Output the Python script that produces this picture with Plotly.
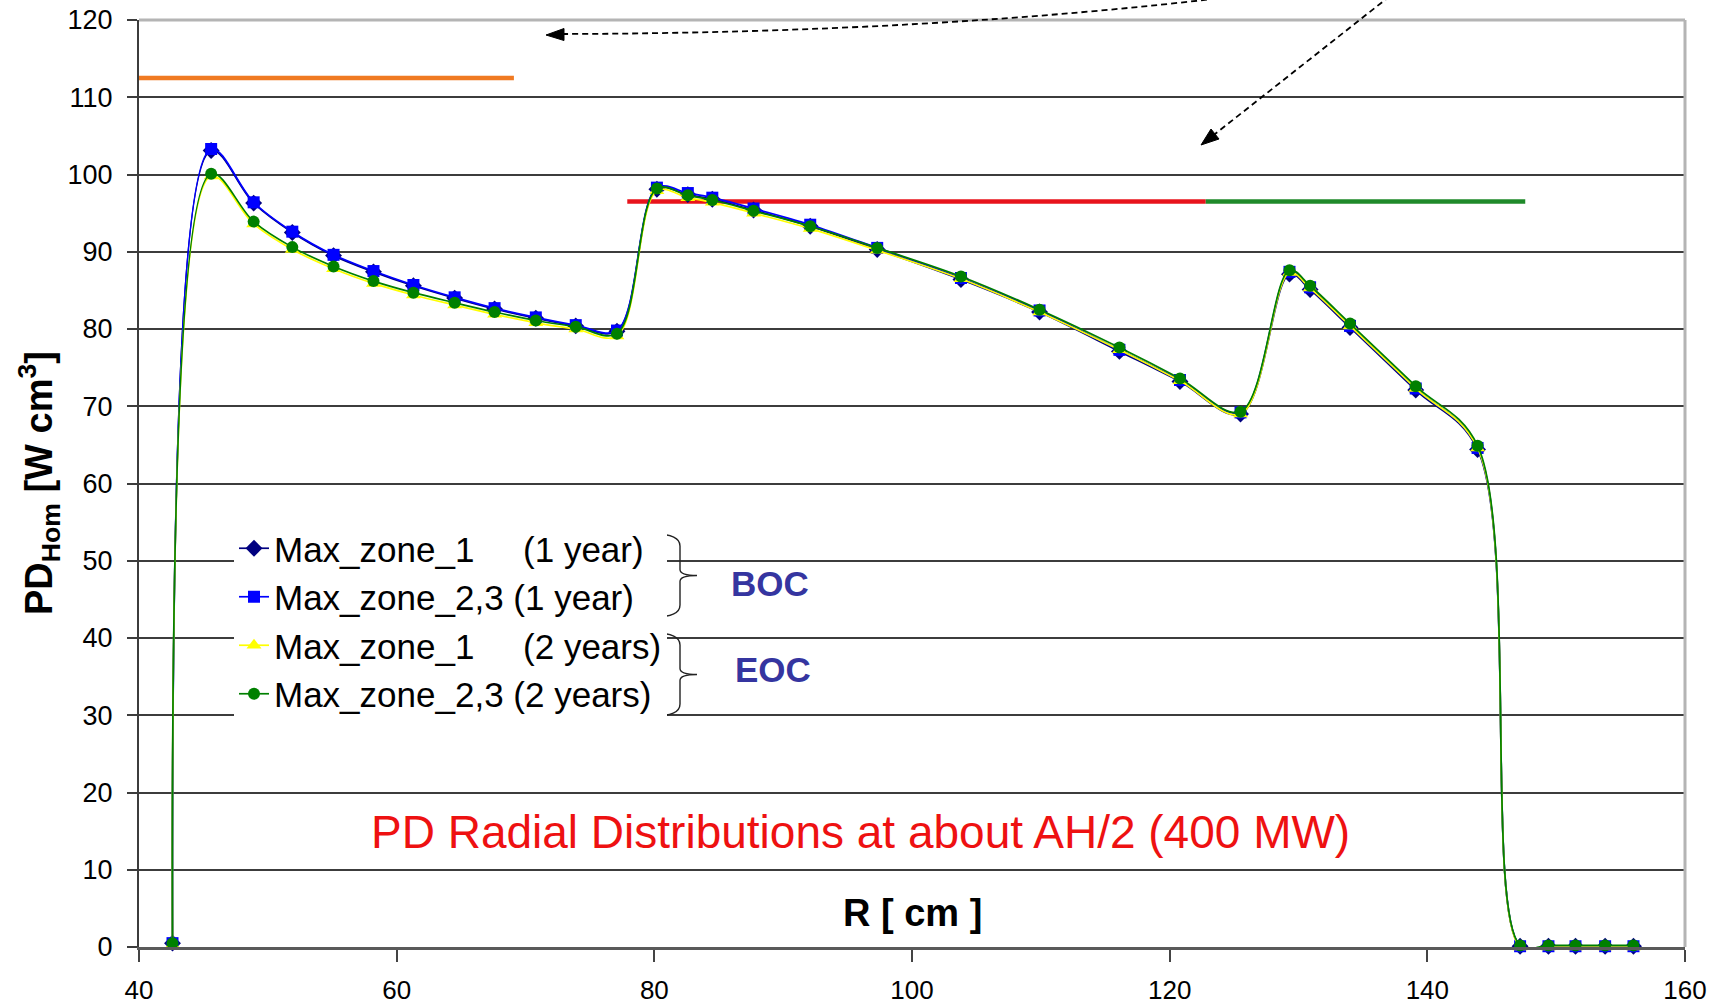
import plotly.graph_objects as go

# ---------------- data ----------------
R = [42.6, 45.6, 48.9, 51.9, 55.1, 58.2, 61.3, 64.5, 67.6, 70.8, 73.9, 77.1,
     80.2, 82.6, 84.5, 87.7, 92.1, 97.3, 103.8, 109.9, 116.1, 120.8, 125.5,
     129.3, 130.9, 134.0, 139.1, 143.9, 147.2, 149.4, 151.5, 153.8, 156.0]

zone1_1y = [0.5, 103.1, 96.3, 92.5, 89.5, 87.4, 85.6, 84.0, 82.6, 81.4, 80.4, 79.7,
            98.1, 97.4, 96.8, 95.4, 93.3, 90.3, 86.4, 82.2, 77.1, 73.2, 69.0,
            87.1, 85.1, 80.2, 72.1, 64.4, 0.1, 0.1, 0.1, 0.1, 0.1]
zone23_1y = [0.5, 103.3, 96.4, 92.6, 89.6, 87.5, 85.7, 84.1, 82.7, 81.5, 80.5, 79.8,
             98.3, 97.6, 97.0, 95.6, 93.5, 90.5, 86.6, 82.4, 77.3, 73.4, 69.2,
             87.4, 85.4, 80.4, 72.3, 64.6, 0.1, 0.1, 0.1, 0.1, 0.1]
zone1_2y = [0.3, 99.8, 93.6, 90.3, 87.8, 85.9, 84.4, 83.1, 81.9, 80.8, 80.0, 79.1,
            97.9, 97.0, 96.4, 95.0, 93.0, 90.2, 86.5, 82.2, 77.3, 73.3, 69.0,
            87.3, 85.3, 80.4, 72.3, 64.6, 0.0, 0.0, 0.0, 0.0, 0.0]
zone23_2y = [0.5, 100.1, 93.9, 90.6, 88.1, 86.2, 84.7, 83.4, 82.2, 81.1, 80.3, 79.4,
             98.2, 97.3, 96.7, 95.3, 93.3, 90.5, 86.8, 82.5, 77.6, 73.6, 69.3,
             87.6, 85.6, 80.7, 72.6, 64.9, 0.2, 0.2, 0.2, 0.2, 0.2]

# design-limit bars
orange_x, orange_y = [40.0, 69.1], [112.5, 112.5]
red_x, red_y = [77.9, 122.8], [96.5, 96.5]
green_x, green_y = [122.8, 147.6], [96.5, 96.5]

x_ticks = [40, 60, 80, 100, 120, 140, 160]
y_ticks = [0, 10, 20, 30, 40, 50, 60, 70, 80, 90, 100, 110, 120]

NB = "\u00a0"
names = ["Max_zone_1" + NB * 5 + "(1 year)",
         "Max_zone_2,3 (1 year)",
         "Max_zone_1" + NB * 5 + "(2 years)",
         "Max_zone_2,3 (2 years)"]

FONT = "Liberation Sans, Arial, sans-serif"

# ---------------- geometry helpers (pixel -> paper) ----------------
W, H = 1721, 1004
L, Rm, T, B = 139, 36, 20, 57
PW, PH = W - L - Rm, H - T - B


def px(X):
    return (X - L) / PW


def py(Y):
    return (H - B - Y) / PH


fig = go.Figure()

# limit bars
for xs, ys, col in [(orange_x, orange_y, "#f07a22"), (red_x, red_y, "#e8141c"),
                    (green_x, green_y, "#1f8a2a")]:
    fig.add_trace(go.Scatter(x=xs, y=ys, mode="lines", showlegend=False,
                             line=dict(color=col, width=4.5), hoverinfo="skip"))

series = [
    (zone1_1y, names[0], "#000080", "diamond", 13),
    (zone23_1y, names[1], "#0000ff", "square", 12),
    (zone1_2y, names[2], "#ffff00", "triangle-up", 13),
    (zone23_2y, names[3], "#008000", "circle", 12),
]
for i, (ys, nm, col, sym, sz) in enumerate(series):
    fig.add_trace(go.Scatter(
        x=R, y=ys, name=nm, mode="lines+markers", legendgroup=f"g{i}",
        line=dict(color=col, width=1.7, shape="spline", smoothing=1.0),
        marker=dict(symbol=sym, size=sz, color=col, line=dict(width=0)),
        cliponaxis=False,
    ))

shapes = []
# top & right frame (light gray)
shapes.append(dict(type="line", xref="paper", yref="paper", x0=0, x1=1, y0=1, y1=1,
                   line=dict(color="#b4b4b4", width=3), layer="above"))
shapes.append(dict(type="line", xref="paper", yref="paper", x0=1, x1=1, y0=0, y1=1,
                   line=dict(color="#b4b4b4", width=3), layer="above"))

# dashed arrow 1 (curved)
p0 = (562, 34)
c = (933, 33)
p2 = (1238, -4)
shapes.append(dict(type="path", xref="paper", yref="paper",
                   path=f"M{px(p0[0])},{py(p0[1])} Q{px(c[0])},{py(c[1])} {px(p2[0])},{py(p2[1])}",
                   line=dict(color="black", width=1.8, dash="6px,4px")))
tip = (546, 35)
shapes.append(dict(type="path", xref="paper", yref="paper",
                   path=f"M{px(tip[0])},{py(tip[1])} L{px(564)},{py(28.5)} L{px(564)},{py(40.5)} Z",
                   fillcolor="black", line=dict(color="black", width=1)))

# dashed arrow 2 (straight)
shapes.append(dict(type="line", xref="paper", yref="paper",
                   x0=px(1390), y0=py(-4), x1=px(1215), y1=py(134),
                   line=dict(color="black", width=1.8, dash="6px,4px")))
tip2 = (1201, 145)
shapes.append(dict(type="path", xref="paper", yref="paper",
                   path=f"M{px(tip2[0])},{py(tip2[1])} L{px(1219)},{py(139)} L{px(1211)},{py(129)} Z",
                   fillcolor="black", line=dict(color="black", width=1)))

# braces
def brace(x0, ytop, ybot, xtip):
    ym = (ytop + ybot) / 2
    xm = x0 + 26
    return (f"M{px(x0)},{py(ytop)} Q{px(xm)},{py(ytop)} {px(xm)},{py(ytop + 12)} "
            f"L{px(xm)},{py(ym - 6)} Q{px(xm)},{py(ym)} {px(xtip)},{py(ym)} "
            f"Q{px(xm)},{py(ym)} {px(xm)},{py(ym + 6)} "
            f"L{px(xm)},{py(ybot - 12)} Q{px(xm)},{py(ybot)} {px(x0)},{py(ybot)}")

shapes.append(dict(type="path", xref="paper", yref="paper", path=brace(654, 534, 617, 697),
                   line=dict(color="#222222", width=1.4)))
shapes.append(dict(type="path", xref="paper", yref="paper", path=brace(654, 633, 716, 697),
                   line=dict(color="#222222", width=1.4)))

annotations = [
    dict(text="<b>BOC</b>", x=px(770), y=py(583), xref="paper", yref="paper",
         showarrow=False, font=dict(family=FONT, size=35, color="#3535a0")),
    dict(text="<b>EOC</b>", x=px(773), y=py(691), xref="paper", yref="paper",
         showarrow=False, font=dict(family=FONT, size=35, color="#3535a0")),
    dict(text="PD Radial Distributions at about AH/2 (400 MW)", x=96.0, y=14.9,
         xref="x", yref="y", showarrow=False,
         font=dict(family=FONT, size=46, color="#ee1111")),
    dict(text="<b>R [ cm ]</b>", x=100.0, y=4.4, xref="x", yref="y", showarrow=False,
         font=dict(family=FONT, size=38, color="black")),
    dict(text="<b>PD<sub>Hom</sub></b> <b>[W cm<sup>3</sup>]</b>", x=px(10), y=py(483),
         xref="paper", yref="paper", showarrow=False, textangle=-90,
         font=dict(family=FONT, size=38, color="black")),
]

fig.update_layout(
    width=W, height=H,
    margin=dict(l=L, r=Rm, t=T, b=B, autoexpand=False),
    paper_bgcolor="white", plot_bgcolor="white",
    font=dict(family=FONT, color="black"),
    showlegend=True,
    legend=dict(x=px(234), y=py(519), xanchor="left", yanchor="top",
                bgcolor="white", borderwidth=0,
                font=dict(family=FONT, size=35, color="black"),
                traceorder="grouped", tracegroupgap=0, itemwidth=30),
    xaxis=dict(range=[40, 160], tickvals=x_ticks, showgrid=False, zeroline=False,
               showline=True, linecolor="#5a5a5a", linewidth=3, automargin=False,
               ticks="outside", ticklen=12, tickwidth=2, tickcolor="#444",
               tickfont=dict(family=FONT, size=26, color="black"),
               ticklabelstandoff=6),
    yaxis=dict(range=[0, 120], tickvals=y_ticks, showgrid=True, gridcolor="#3c3c3c",
               gridwidth=2, zeroline=False, showline=True, linecolor="#3c3c3c",
               linewidth=2, automargin=False, ticks="outside", ticklen=10, tickwidth=2,
               tickcolor="#3c3c3c",
               tickfont=dict(family=FONT, size=27, color="black"),
               ticklabelstandoff=9),
    shapes=shapes,
    annotations=annotations,
)

fig.write_html("out.html")
